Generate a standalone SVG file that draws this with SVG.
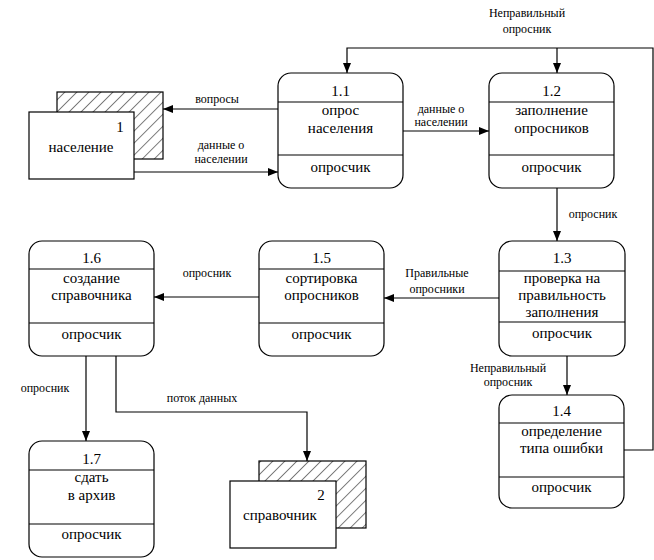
<svg xmlns="http://www.w3.org/2000/svg" width="654" height="560" viewBox="0 0 654 560" font-family="'Liberation Serif', 'DejaVu Serif', 'Times New Roman', serif">
<defs>
<marker id="ah" markerWidth="10" markerHeight="8" refX="10" refY="4" orient="auto" markerUnits="userSpaceOnUse">
<path d="M0,0 L10,4 L0,8 Z" fill="#000"/>
</marker>
<pattern id="hatch" width="8.5" height="8.5" patternUnits="userSpaceOnUse" patternTransform="rotate(45)">
<line x1="0" y1="0" x2="0" y2="8.5" stroke="#000" stroke-width="1"/>
</pattern>
<style>
.box{fill:#fff;stroke:#000;stroke-width:1.2}
.ln{stroke:#000;stroke-width:1.2;fill:none}
.t{font-family:'Liberation Serif','DejaVu Serif',serif;font-size:15px;text-anchor:middle;fill:#000}
.l{font-family:'Liberation Serif','DejaVu Serif',serif;font-size:12px;text-anchor:middle;fill:#000}
</style>
</defs>
<rect width="654" height="560" fill="#fff"/>

<g id="connectors">
<path class="ln" d="M278,109 H163" marker-end="url(#ah)"/>
<path class="ln" d="M134,172 H278" marker-end="url(#ah)"/>
<path class="ln" d="M403,131 H489" marker-end="url(#ah)"/>
<path class="ln" d="M557,188 V241" marker-end="url(#ah)"/>
<path class="ln" d="M499,298 H384" marker-end="url(#ah)"/>
<path class="ln" d="M259,297 H154" marker-end="url(#ah)"/>
<path class="ln" d="M567,356 V395" marker-end="url(#ah)"/>
<path class="ln" d="M624,450 H653 V48 H347 V73" marker-end="url(#ah)"/>
<path class="ln" d="M557,48 V73" marker-end="url(#ah)"/>
<path class="ln" d="M86,356 V441" marker-end="url(#ah)"/>
<path class="ln" d="M116,356 V412 H307 V461" marker-end="url(#ah)"/>
<text class="l" x="217" y="103">вопросы</text>
<text class="l" x="221" y="149">данные о</text>
<text class="l" x="221" y="163">населении</text>
<text class="l" x="441" y="113">данные о</text>
<text class="l" x="441" y="126">населении</text>
<text class="l" x="593" y="218">опросник</text>
<text class="l" x="437" y="277">Правильные</text>
<text class="l" x="437" y="293">опросники</text>
<text class="l" x="207" y="277">опросник</text>
<text class="l" x="527" y="17">Неправильный</text>
<text class="l" x="527" y="33">опросник</text>
<text class="l" x="508" y="372">Неправильный</text>
<text class="l" x="508" y="386">опросник</text>
<text class="l" x="45" y="392">опросник</text>
<text class="l" x="202" y="402">поток данных</text>
</g>

<g id="store1">
<rect x="57" y="92" width="106" height="67" fill="url(#hatch)" stroke="#000" stroke-width="1.2"/>
<rect class="box" x="29" y="112" width="105" height="67"/>
<text class="t" x="120" y="132">1</text>
<text class="t" x="81" y="152">население</text>
</g>

<g id="store2">
<rect x="259" y="461" width="107" height="67" fill="url(#hatch)" stroke="#000" stroke-width="1.2"/>
<rect class="box" x="230" y="481" width="106" height="67"/>
<text class="t" x="321" y="500">2</text>
<text class="t" x="280" y="520">справочник</text>
</g>

<g id="p11">
<rect class="box" x="278" y="73" width="125" height="115" rx="13"/>
<path class="ln" d="M278,102 H403 M278,155 H403"/>
<text class="t" x="340.5" y="96">1.1</text>
<text class="t" x="340.5" y="115">опрос</text>
<text class="t" x="340.5" y="133">населения</text>
<text class="t" x="340.5" y="172">опросчик</text>
</g>

<g id="p12">
<rect class="box" x="489" y="73" width="125" height="115" rx="13"/>
<path class="ln" d="M489,102 H614 M489,155 H614"/>
<text class="t" x="551.5" y="96">1.2</text>
<text class="t" x="551.5" y="115">заполнение</text>
<text class="t" x="551.5" y="133">опросников</text>
<text class="t" x="551.5" y="172">опросчик</text>
</g>

<g id="p13">
<rect class="box" x="499" y="241" width="126" height="115" rx="13"/>
<path class="ln" d="M499,271 H625 M499,322 H625"/>
<text class="t" x="562" y="263">1.3</text>
<text class="t" x="562" y="283">проверка на</text>
<text class="t" x="562" y="300">правильность</text>
<text class="t" x="562" y="317">заполнения</text>
<text class="t" x="562" y="338">опросчик</text>
</g>

<g id="p14">
<rect class="box" x="499" y="395" width="125" height="113" rx="13"/>
<path class="ln" d="M499,423 H624 M499,477 H624"/>
<text class="t" x="561.5" y="416">1.4</text>
<text class="t" x="561.5" y="436">определение</text>
<text class="t" x="561.5" y="453">типа ошибки</text>
<text class="t" x="561.5" y="492">опросчик</text>
</g>

<g id="p15">
<rect class="box" x="259" y="241" width="125" height="115" rx="13"/>
<path class="ln" d="M259,269 H384 M259,323 H384"/>
<text class="t" x="321.5" y="263">1.5</text>
<text class="t" x="321.5" y="283">сортировка</text>
<text class="t" x="321.5" y="300">опросников</text>
<text class="t" x="321.5" y="339">опросчик</text>
</g>

<g id="p16">
<rect class="box" x="29" y="241" width="125" height="115" rx="13"/>
<path class="ln" d="M29,269 H154 M29,323 H154"/>
<text class="t" x="91.5" y="263">1.6</text>
<text class="t" x="91.5" y="283">создание</text>
<text class="t" x="91.5" y="300">справочника</text>
<text class="t" x="91.5" y="339">опросчик</text>
</g>

<g id="p17">
<rect class="box" x="29" y="441" width="125" height="116" rx="13"/>
<path class="ln" d="M29,470 H154 M29,524 H154"/>
<text class="t" x="91.5" y="464">1.7</text>
<text class="t" x="91.5" y="482">сдать</text>
<text class="t" x="91.5" y="500">в архив</text>
<text class="t" x="91.5" y="539">опросчик</text>
</g>
</svg>
